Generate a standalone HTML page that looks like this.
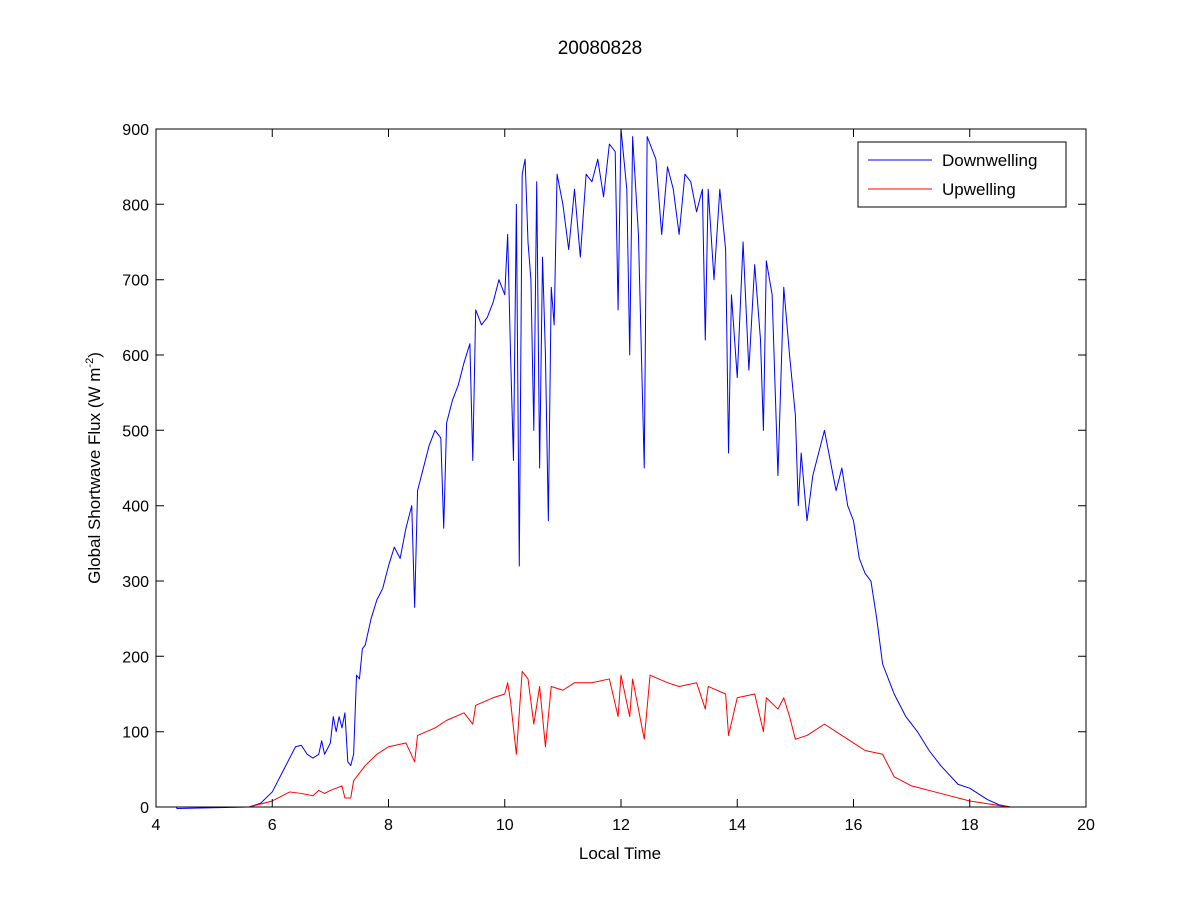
<!DOCTYPE html>
<html><head><meta charset="utf-8"><style>body{margin:0;background:#fff}svg{display:block;font-family:"Liberation Sans",Arial,sans-serif}</style></head>
<body>
<svg width="1200" height="900" xmlns="http://www.w3.org/2000/svg">
<rect width="1200" height="900" fill="#fff"/>
<text x="600" y="54" font-size="19" text-anchor="middle">20080828</text>
<g transform="translate(156,807) scale(58.125,-0.7533) translate(-4,0)" fill="none" stroke-linejoin="round">
<polyline vector-effect="non-scaling-stroke" stroke="#0000ff" stroke-width="1" points="4.2,0 4.35,0 4.36,-2 5.6,0 5.8,5 6.0,20 6.2,50 6.4,80 6.5,82 6.6,70 6.7,65 6.8,70 6.85,88 6.9,70 7.0,85 7.05,120 7.1,100 7.15,120 7.2,105 7.25,125 7.3,60 7.35,55 7.4,70 7.45,175 7.5,170 7.55,210 7.6,215 7.7,250 7.8,275 7.9,290 8.0,320 8.1,345 8.2,330 8.3,370 8.4,400 8.45,265 8.5,420 8.6,450 8.7,480 8.8,500 8.9,490 8.95,370 9.0,510 9.1,540 9.2,560 9.3,590 9.4,615 9.45,460 9.5,660 9.6,640 9.7,650 9.8,670 9.9,700 10.0,680 10.05,760 10.1,600 10.15,460 10.2,800 10.25,320 10.3,840 10.35,860 10.4,750 10.45,700 10.5,500 10.55,830 10.6,450 10.65,730 10.7,600 10.75,380 10.8,690 10.85,640 10.9,840 11.0,800 11.1,740 11.2,820 11.3,730 11.4,840 11.5,830 11.6,860 11.7,810 11.8,880 11.9,870 11.95,660 12.0,900 12.1,820 12.15,600 12.2,890 12.3,760 12.4,450 12.45,890 12.6,860 12.7,760 12.8,850 12.9,820 13.0,760 13.1,840 13.2,830 13.3,790 13.4,820 13.45,620 13.5,820 13.6,700 13.7,820 13.8,740 13.85,470 13.9,680 14.0,570 14.1,750 14.2,580 14.3,720 14.4,620 14.45,500 14.5,725 14.6,680 14.7,440 14.8,690 14.9,600 15.0,520 15.05,400 15.1,470 15.2,380 15.3,440 15.4,470 15.5,500 15.6,460 15.7,420 15.8,450 15.9,400 16.0,380 16.1,330 16.2,310 16.3,300 16.4,250 16.5,190 16.7,150 16.9,120 17.1,100 17.3,75 17.5,55 17.8,30 18.0,25 18.3,10 18.5,3 18.7,0"/>
<polyline vector-effect="non-scaling-stroke" stroke="#ff0000" stroke-width="1" points="4.2,0 4.35,0 5.6,0 6.0,8 6.3,20 6.5,18 6.7,15 6.8,22 6.9,18 7.0,22 7.1,25 7.2,28 7.25,12 7.35,12 7.4,35 7.6,55 7.8,70 8.0,80 8.3,85 8.45,60 8.5,95 8.8,105 9.0,115 9.3,125 9.45,110 9.5,135 9.8,145 10.0,150 10.05,165 10.1,140 10.2,70 10.3,180 10.4,170 10.5,110 10.6,160 10.7,80 10.8,160 11.0,155 11.2,165 11.5,165 11.8,170 11.95,120 12.0,175 12.15,120 12.2,170 12.4,90 12.5,175 12.8,165 13.0,160 13.3,165 13.45,130 13.5,160 13.8,150 13.85,95 14.0,145 14.3,150 14.45,100 14.5,145 14.7,130 14.8,145 14.9,120 15.0,90 15.2,95 15.5,110 15.8,95 16.0,85 16.2,75 16.5,70 16.7,40 17.0,28 17.5,18 18.0,8 18.5,2 18.7,0"/>
</g>
<rect x="156" y="129" width="930" height="678" fill="none" stroke="#000"/>
<g stroke="#000">
<path d="M156,807v-8M272.25,807v-8M388.5,807v-8M504.75,807v-8M621,807v-8M737.25,807v-8M853.5,807v-8M969.75,807v-8M272.25,129v8M388.5,129v8M504.75,129v8M621,129v8M737.25,129v8M853.5,129v8M969.75,129v8"/>
<path d="M156,731.7h8M156,656.3h8M156,581h8M156,505.7h8M156,430.3h8M156,355h8M156,279.7h8M156,204.3h8M1086,731.7h-8M1086,656.3h-8M1086,581h-8M1086,505.7h-8M1086,430.3h-8M1086,355h-8M1086,279.7h-8M1086,204.3h-8"/>
</g>
<g font-size="16" text-anchor="middle">
<text x="156" y="830">4</text><text x="272.25" y="830">6</text><text x="388.5" y="830">8</text><text x="504.75" y="830">10</text><text x="621" y="830">12</text><text x="737.25" y="830">14</text><text x="853.5" y="830">16</text><text x="969.75" y="830">18</text><text x="1086" y="830">20</text>
</g>
<g font-size="16" text-anchor="end">
<text x="149" y="813">0</text><text x="149" y="737.7">100</text><text x="149" y="662.3">200</text><text x="149" y="587">300</text><text x="149" y="511.7">400</text><text x="149" y="436.3">500</text><text x="149" y="361">600</text><text x="149" y="285.7">700</text><text x="149" y="210.3">800</text><text x="149" y="135">900</text>
</g>
<text x="620" y="859" font-size="17" text-anchor="middle">Local Time</text>
<text transform="translate(100,468) rotate(-90)" font-size="17" text-anchor="middle">Global Shortwave Flux (W m<tspan font-size="11" dy="-7">-2</tspan><tspan dy="7">)</tspan></text>
<rect x="858" y="142" width="208" height="65" fill="#fff" stroke="#000"/>
<line x1="868" y1="160" x2="932" y2="160" stroke="#0000ff"/>
<line x1="868" y1="189" x2="932" y2="189" stroke="#ff0000"/>
<text x="942" y="166" font-size="17">Downwelling</text>
<text x="942" y="195" font-size="17">Upwelling</text>
</svg>
</body></html>
